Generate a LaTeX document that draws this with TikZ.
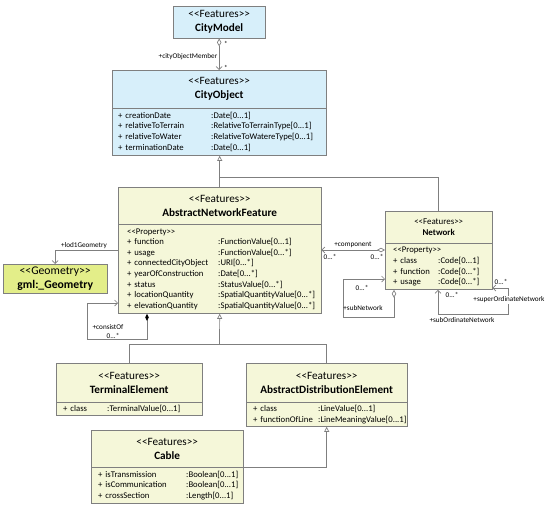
\documentclass[tikz,border=0pt]{standalone}
\usepackage{fontspec}
\newfontfamily\umlfont{Carlito}
\usepackage{tikz}
\usepackage{xcolor}
\usetikzlibrary{positioning, arrows.meta}
\definecolor{featblue}{HTML}{D7EFFA}
\definecolor{featyellow}{HTML}{F5F7D9}
\definecolor{geomgreen}{HTML}{E3EE89}
\definecolor{umlgray}{HTML}{7F7F7F}
\tikzstyle{every node}=[font=\umlfont]
\tikzstyle{hdr} = [rectangle, draw=umlgray, fill=featyellow, align=center, inner sep=0pt, anchor=north west, font=\umlfont\fontsize{11.2}{14}\selectfont]
\tikzstyle{body} = [rectangle, draw=umlgray, fill=featyellow, inner ysep=0pt, align=left, font=\umlfont\fontsize{8.7}{10.6}\selectfont]
\tikzstyle{lbl} = [inner sep=0.5pt, font=\umlfont\fontsize{7.2}{8}\selectfont]
\tikzstyle{line} = [draw=umlgray, line width=0.7pt]
\tikzstyle{gen} = [line, -{Triangle[open, length=5pt, width=5pt]}]
\tikzstyle{nav} = [line, -{Straight Barb[length=3pt, width=6pt]}]
\tikzstyle{agg} = [line, {Diamond[open, length=8pt, width=4.5pt]}-{Straight Barb[length=3pt, width=6pt]}]
\tikzstyle{compo} = [line, {Diamond[black, length=7pt, width=3.5pt]}-{Straight Barb[length=3pt, width=6pt]}]
\tikzstyle{both} = [line, {Straight Barb[length=3pt, width=6pt]}-{Straight Barb[length=3pt, width=6pt]}]
\newcommand{\attrs}[2]{\begin{tabular}{@{}p{#1}@{}l@{}}#2\end{tabular}}

\begin{document}
\begin{tikzpicture}[x=1pt, y=-1pt]
    \useasboundingbox (0,0) rectangle (550,509);
    % Place nodes
    \node [hdr, fill=featblue, minimum width=92pt, minimum height=32pt] (cmodel) at (173,6) {<<Features>>\\\textbf{CityModel}};
    \node [hdr, fill=featblue, minimum width=214pt, minimum height=38pt] (cobj) at (112,70) {<<Features>>\\\textbf{CityObject}};
    \node [body, fill=featblue, below=0pt of cobj, inner xsep=6pt, text width=202pt, minimum height=47pt] (cobjB) {\attrs{93pt}{+ creationDate & :Date[0...1]\\ + relativeToTerrain & :RelativeToTerrainType[0...1]\\ + relativeToWater & :RelativeToWatereType[0...1]\\ + terminationDate & :Date[0...1]}};
    \node [hdr, minimum width=203pt, minimum height=37pt] (anf) at (118,187) {<<Features>>\\\textbf{AbstractNetworkFeature}};
    \node [body, below=0pt of anf, inner xsep=9pt, text width=185pt, minimum height=89pt] (anfB) {\attrs{91pt}{<<Property>> & \\ + function & :FunctionValue[0...1]\\ + usage & :FunctionValue[0...*]\\ + connectedCityObject & :URI[0...*]\\ + yearOfConstruction & :Date[0...*]\\ + status & :StatusValue[0...*]\\ + locationQuantity & :SpatialQuantityValue[0...*]\\ + elevationQuantity & :SpatialQuantityValue[0...*]}};
    \node [hdr, fill=geomgreen, minimum width=104pt, minimum height=29pt, font=\umlfont\fontsize{11.7}{14}\selectfont] (geom) at (3,264) {<<Geometry>>\\\textbf{gml:\_Geometry}};
    \node [hdr, minimum width=107pt, minimum height=32pt, font=\umlfont\fontsize{8.9}{11}\selectfont] (net) at (385,211) {<<Features>>\\\textbf{Network}};
    \node [body, below=0pt of net, inner xsep=8pt, text width=91pt, minimum height=46pt] (netB) {\attrs{45pt}{<<Property>> & \\ + class & :Code[0...1]\\ + function & :Code[0...*]\\ + usage & :Code[0...*]}};
    \node [hdr, minimum width=146pt, minimum height=39pt] (term) at (56,363) {<<Features>>\\\textbf{TerminalElement}};
    \node [body, below=0pt of term, inner xsep=7pt, text width=132pt, minimum height=13pt] (termB) {\attrs{44pt}{+ class & :TerminalValue[0...1]}};
    \node [hdr, minimum width=161pt, minimum height=39pt] (ade) at (246,363) {<<Features>>\\\textbf{AbstractDistributionElement}};
    \node [body, below=0pt of ade, inner xsep=7pt, text width=147pt, minimum height=24pt] (adeB) {\attrs{65pt}{+ class & :LineValue[0...1]\\ + functionOfLine & :LineMeaningValue[0...1]}};
    \node [hdr, minimum width=152pt, minimum height=37pt] (cable) at (91,430) {<<Features>>\\\textbf{Cable}};
    \node [body, below=0pt of cable, inner xsep=7pt, text width=138pt, minimum height=36pt] (cableB) {\attrs{88pt}{+ isTransmission & :Boolean[0...1]\\ + isCommunication & :Boolean[0...1]\\ + crossSection & :Length[0...1]}};
    % Draw edges
    \coordinate (genA) at (219.5,177);
    \coordinate (genB) at (219.5,344);
    \path [agg] (cmodel) -- (cobj);
    \path [gen] (anf.north) -- (anf.north |- cobjB.south);
    \path [line] (net.north) |- (genA);
    \path [line] (term.north) |- (genB);
    \path [line] (ade.north) |- (genB);
    \path [gen] (genB) -- (anfB.south);
    \path [gen] (cable.south east) -| (adeB.south);
    \coordinate (lodP) at (55,250);
    \path [nav] (anfB.west |- lodP) -| (geom.north);
    \coordinate (conA) at (147,339);
    \coordinate (conB) at (87,303);
    \path [compo] (anfB.south -| conA) -- (conA) -| (conB) -- (anfB.west |- conB);
    \coordinate (compP) at (350,250);
    \path [agg] (netB.west |- compP) -- (anfB.east |- compP);
    \coordinate (subA) at (394,317);
    \coordinate (subB) at (343,279);
    \path [agg] (netB.south -| subA) -- (subA) -| (subB) -- (netB.west |- subB);
    \coordinate (ordA) at (438,314);
    \coordinate (ordB) at (508,288);
    \path [both] (netB.south -| ordA) -- (ordA) -| (ordB) -- (netB.east |- ordB);
    % Labels
    \node [lbl, anchor=east] (lblMember) at (218,57) {+cityObjectMember};
    \node [lbl] (mulModel) at (226,44) {*};
    \node [lbl] (mulObj) at (226,68) {*};
    \node [lbl] (lblLod) at (84,246) {+lod1Geometry};
    \node [lbl] (lblConsist) at (108,327) {+consistOf};
    \node [lbl] (mulConsist) at (113,336) {0...*};
    \node [lbl] (lblComp) at (353,245) {+component};
    \node [lbl] (mulCompA) at (330,257) {0...*};
    \node [lbl] (mulCompB) at (377,257) {0...*};
    \node [lbl] (mulSub) at (362,288) {0...*};
    \node [lbl] (lblSub) at (363,308) {+subNetwork};
    \node [lbl] (mulOrdA) at (452,295) {0...*};
    \node [lbl] (mulOrdB) at (501,282) {0...*};
    \node [lbl, fill=white] (lblSuper) at (509,300) {+superOrdinateNetwork};
    \node [lbl] (lblSubOrd) at (462,320) {+subOrdinateNetwork};
\end{tikzpicture}
\end{document}
